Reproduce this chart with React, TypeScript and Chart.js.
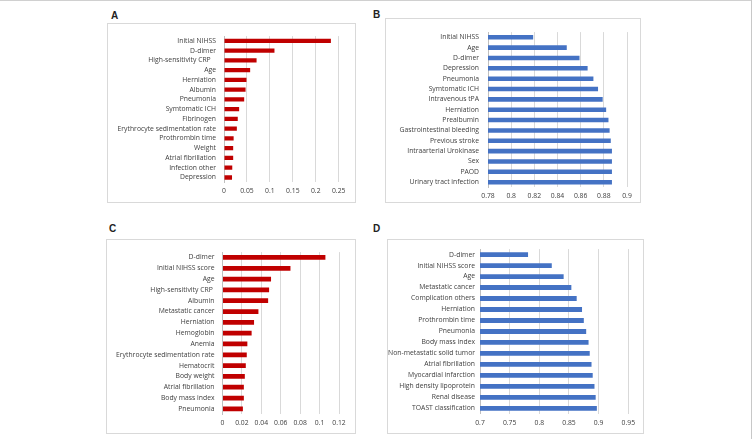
import React, { useEffect, useRef } from "react";
import { Chart, registerables } from "chart.js";

Chart.register(...registerables);

// ---------- Data ----------
const catA = [
  "Initial NIHSS",
  "D-dimer",
  "High-sensitivity CRP   ",
  "Age",
  "Herniation",
  "Albumin",
  "Pneumonia",
  "Symtomatic ICH",
  "Fibrinogen",
  "Erythrocyte sedimentation rate",
  "Prothrombin time",
  "Weight",
  "Atrial fibrillation",
  "Infection other",
  "Depression",
];
const valA = [0.233, 0.11, 0.071, 0.057, 0.049, 0.047, 0.044, 0.033, 0.03, 0.028, 0.021, 0.02, 0.02, 0.018, 0.0175];
const ticksA = [0, 0.05, 0.1, 0.15, 0.2, 0.25];

const catB = [
  "Initial NIHSS",
  "Age",
  "D-dimer",
  "Depression",
  "Pneumonia",
  "Symtomatic ICH",
  "Intravenous tPA",
  "Herniation",
  "Prealbumin",
  "Gastrointestinal bleeding",
  "Previous stroke",
  "Intraarterial Urokinase",
  "Sex",
  "PAOD",
  "Urinary tract infection",
];
const valB = [0.819, 0.848, 0.859, 0.866, 0.871, 0.875, 0.879, 0.882, 0.884, 0.885, 0.886, 0.887, 0.887, 0.887, 0.887];
const ticksB = [0.78, 0.8, 0.82, 0.84, 0.86, 0.88, 0.9];

const catC = [
  "D-dimer",
  "Initial NIHSS score",
  "Age",
  "High-sensitivity CRP ",
  "Albumin",
  "Metastatic cancer",
  "Herniation",
  "Hemoglobin",
  "Anemia",
  "Erythrocyte sedimentation rate",
  "Hematocrit",
  "Body weight",
  "Atrial fibrillation",
  "Body mass index",
  "Pneumonia",
];
const valC = [0.106, 0.07, 0.05, 0.048, 0.047, 0.037, 0.0325, 0.03, 0.0256, 0.025, 0.024, 0.023, 0.022, 0.022, 0.021];
const ticksC = [0, 0.02, 0.04, 0.06, 0.08, 0.1, 0.12];

const catD = [
  "D-dimer",
  "Initial NIHSS score",
  "Age",
  "Metastatic cancer",
  "Complication others",
  "Herniation",
  "Prothrombin time",
  "Pneumonia",
  "Body mass index",
  "Non-metastatic solid tumor",
  "Atrial fibrillation",
  "Myocardial infarction",
  "High density lipoprotein",
  "Renal disease",
  "TOAST classification",
];
const valD = [0.781, 0.821, 0.841, 0.854, 0.863, 0.872, 0.875, 0.879, 0.883, 0.885, 0.888, 0.89, 0.893, 0.895, 0.897];
const ticksD = [0.7, 0.75, 0.8, 0.85, 0.9, 0.95];

// ---------- Layout (page coordinates) ----------
const RED = "#c00000";
const BLUE = "#4472c4";
const FONT = "'Open Sans', 'Liberation Sans', Arial, sans-serif";
const LETTER_FONT = "'Liberation Sans', Arial, sans-serif";
const TEXT = "#404040";

type Rect = { l: number; t: number; r: number; b: number };

const fmt = (v: number) => String(Number(Number(v).toFixed(4)));

function Panel(props: {
  labels: string[];
  values: number[];
  ticks: number[];
  color: string;
  box: Rect;
  plot: Rect; // left/right of plot, centre of first/last bar
  yPad: number;
  xPad: number;
  letter: string;
  lx: number;
  ly: number;
}) {
  const ref = useRef<HTMLCanvasElement | null>(null);
  const { box, plot } = props;
  const cx = box.l + 1;
  const cy = box.t + 1;
  const cw = box.r - box.l - 1;
  const ch = box.b - box.t - 1;

  useEffect(() => {
    if (!ref.current) return;
    const n = props.labels.length;
    const step = (plot.b - plot.t) / (n - 1);
    const top = plot.t - step / 2 - cy;
    const bottom = plot.b + step / 2 - cy;
    const left = plot.l - cx;
    const right = plot.r - cx;
    const font = { family: FONT, size: 6.8 };
    const chart = new Chart(ref.current, {
      type: "bar",
      data: {
        labels: props.labels,
        datasets: [
          {
            data: props.values,
            backgroundColor: props.color,
            barPercentage: 0.44,
            categoryPercentage: 1,
          },
        ],
      },
      options: {
        indexAxis: "y",
        animation: false,
        responsive: false,
        maintainAspectRatio: false,
        devicePixelRatio: 1,
        layout: { padding: { left: 0, top: top, right: cw - right, bottom: 0 } },
        plugins: { legend: { display: false }, tooltip: { enabled: false } },
        scales: {
          x: {
            type: "linear",
            min: props.ticks[0],
            max: props.ticks[props.ticks.length - 1],
            afterBuildTicks: (s: any) => {
              s.ticks = props.ticks.map((v) => ({ value: v }));
            },
            afterFit: (s: any) => {
              s.height = ch - bottom;
            },
            grid: { color: "#d9d9d9", drawTicks: false, lineWidth: 1 },
            border: { display: false },
            ticks: {
              padding: props.xPad,
              font,
              color: TEXT,
              maxRotation: 0,
              autoSkip: false,
              callback: (v: any) => fmt(v),
            },
          },
          y: {
            afterFit: (s: any) => {
              s.width = left;
            },
            grid: { display: false, drawTicks: false },
            border: { display: true, color: "#bfbfbf", width: 1 },
            ticks: { padding: props.yPad, font, color: TEXT, autoSkip: false },
          },
        },
      } as any,
    });
    return () => chart.destroy();
  }, []);

  return (
    <>
      <div
        style={{
          position: "absolute",
          left: props.lx,
          top: props.ly,
          fontFamily: LETTER_FONT,
          fontWeight: "bold",
          fontSize: 10,
          lineHeight: "10px",
          color: "#222",
        }}
      >
        {props.letter}
      </div>
      <div
        style={{
          position: "absolute",
          left: box.l,
          top: box.t,
          width: box.r - box.l - 1,
          height: box.b - box.t - 1,
          border: "1px solid #d9d9d9",
        }}
      >
        <canvas ref={ref} width={cw} height={ch} style={{ display: "block", width: cw, height: ch }} />
      </div>
    </>
  );
}

export default function App() {
  return (
    <div
      style={{
        position: "absolute",
        left: 0,
        top: 0,
        width: 755,
        height: 439,
        background: "#fff",
        overflow: "hidden",
      }}
    >
      <div style={{ position: "absolute", left: 0, top: 0, width: 752, height: 1, background: "#d0d0d0" }} />
      <div style={{ position: "absolute", left: 751, top: 0, width: 1, height: 439, background: "#c8c8c8" }} />
      <Panel
        labels={catA}
        values={valA}
        ticks={ticksA}
        color={RED}
        box={{ l: 107, t: 23, r: 355, b: 202 }}
        plot={{ l: 224, r: 338.7, t: 35.7, b: 177.3 }}
        yPad={8}
        xPad={5}
        letter="A"
        lx={111}
        ly={11}
      />
      <Panel
        labels={catB}
        values={valB}
        ticks={ticksB}
        color={BLUE}
        box={{ l: 385, t: 18, r: 640, b: 202 }}
        plot={{ l: 488, r: 627, t: 32.3, b: 182 }}
        yPad={9}
        xPad={5}
        letter="B"
        lx={373}
        ly={10}
      />
      <Panel
        labels={catC}
        values={valC}
        ticks={ticksC}
        color={RED}
        box={{ l: 106, t: 239, r: 355, b: 433 }}
        plot={{ l: 222.5, r: 339, t: 252.7, b: 408.7 }}
        yPad={8}
        xPad={5}
        letter="C"
        lx={109}
        ly={224}
      />
      <Panel
        labels={catD}
        values={valD}
        ticks={ticksD}
        color={BLUE}
        box={{ l: 387, t: 239, r: 643, b: 433 }}
        plot={{ l: 480, r: 628.3, t: 252.7, b: 408.3 }}
        yPad={5}
        xPad={5}
        letter="D"
        lx={373}
        ly={224}
      />
    </div>
  );
}
